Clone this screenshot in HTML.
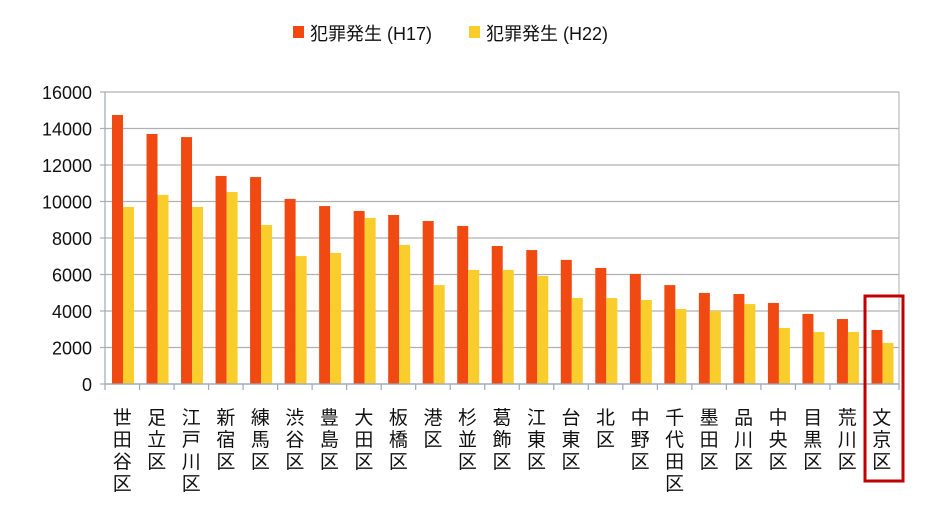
<!DOCTYPE html>
<html><head><meta charset="utf-8"><style>
html,body{margin:0;padding:0;background:#fff;width:941px;height:514px;overflow:hidden}
text{font-family:"Liberation Sans","Noto Sans CJK JP",sans-serif;fill:#111}
</style></head><body>
<svg id="s" width="941" height="514" xmlns="http://www.w3.org/2000/svg">
<rect x="293" y="26" width="11" height="12" fill="#f04a12"/>
<text x="310" y="40" font-size="18">犯罪発生 (H17)</text>
<rect x="469" y="26" width="11" height="12" fill="#f8cd2c"/>
<text x="486" y="40" font-size="18">犯罪発生 (H22)</text>
<g id="g"></g>
<rect x="865" y="296" width="38" height="185" fill="none" stroke="#c00000" stroke-width="3"/>
</svg>
<script>
var g=document.getElementById('g'),h='';
var L=105,R=899,Y0=384,k=36.5/2000;
for(var i=0;i<=8;i++){var y=Y0-i*36.5;
 h+='<line x1="'+(L-5)+'" x2="'+R+'" y1="'+y+'" y2="'+y+'" stroke="#b0b0b0" stroke-width="1.2"/>';
 h+='<text x="92" y="'+(y+7)+'" font-size="18" text-anchor="end">'+(i*2000)+'</text>';}
h+='<line x1="'+L+'" x2="'+L+'" y1="92" y2="'+(Y0+6)+'" stroke="#9ab" stroke-width="1.2"/>';
h+='<line x1="'+R+'" x2="'+R+'" y1="92" y2="'+Y0+'" stroke="#bbb" stroke-width="1.2"/>';
var n=['世田谷区','足立区','江戸川区','新宿区','練馬区','渋谷区','豊島区','大田区','板橋区','港区','杉並区','葛飾区','江東区','台東区','北区','中野区','千代田区','墨田区','品川区','中央区','目黒区','荒川区','文京区'];
var a=[14740,13700,13530,11400,11340,10140,9750,9480,9260,8930,8660,7560,7340,6800,6360,6030,5420,4990,4930,4440,3840,3560,2960];
var b=[9700,10360,9700,10520,8710,7010,7180,9100,7620,5420,6250,6250,5920,4710,4710,4600,4110,4000,4380,3070,2850,2850,2250];
var w=(R-L)/23;
for(var i=0;i<23;i++){var x=L+i*w;
 h+='<rect x="'+(x+7)+'" y="'+(Y0-a[i]*k)+'" width="11" height="'+(a[i]*k)+'" fill="#f04a12"/>';
 h+='<rect x="'+(x+18)+'" y="'+(Y0-b[i]*k)+'" width="11" height="'+(b[i]*k)+'" fill="#f8cd2c"/>';
 h+='<line x1="'+(x+w)+'" x2="'+(x+w)+'" y1="'+Y0+'" y2="'+(Y0+6)+'" stroke="#9ab" stroke-width="1.2"/>';
 for(var j=0;j<n[i].length;j++)h+='<text x="'+(x+w/2)+'" y="'+(424+j*22)+'" font-size="19" text-anchor="middle">'+n[i][j]+'</text>';}
h+='<line x1="'+L+'" x2="'+R+'" y1="'+Y0+'" y2="'+Y0+'" stroke="#9ab" stroke-width="1.2"/>';
g.innerHTML=h;
</script>
</body></html>
